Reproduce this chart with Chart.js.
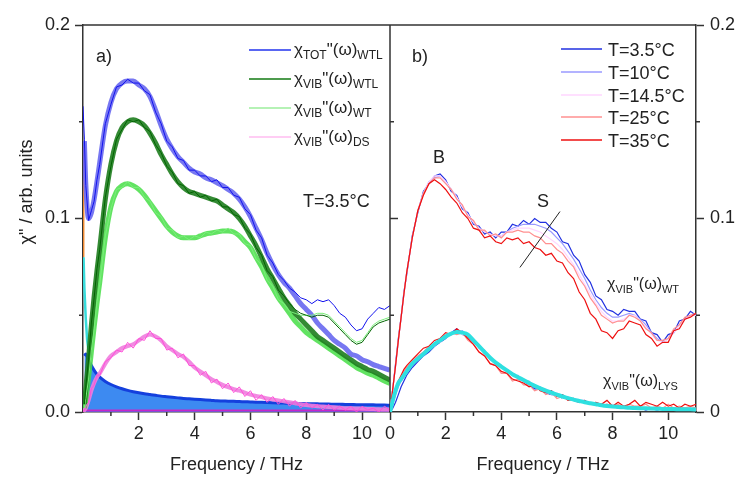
<!DOCTYPE html>
<html>
<head>
<meta charset="utf-8">
<script src="https://cdn.jsdelivr.net/npm/chart.js@4.4.1/dist/chart.umd.min.js"></script>
<style>
  body { margin: 0; background: #fff; width: 739px; height: 478px; overflow: hidden; position: relative; }
  canvas { position: absolute; top: 0; }
  #left { left: 0; }
  #right { left: 380px; }
</style>
</head>
<body>
<canvas id="left" width="400" height="478"></canvas>
<canvas id="right" width="359" height="478"></canvas>
<script>
const FONT = "'Liberation Sans', Arial, sans-serif";

// frequency grid (THz), shared by every series
const FREQ = [
  0, 0.05, 0.1, 0.2, 0.3, 0.4, 0.5, 0.6, 0.8, 1.0,
  1.2, 1.4, 1.6, 1.8, 2.0, 2.2, 2.4, 2.6, 2.8, 3.0,
  3.2, 3.4, 3.6, 3.8, 4.0, 4.2, 4.4, 4.6, 4.8, 5.0,
  5.2, 5.4, 5.6, 5.8, 6.0, 6.2, 6.4, 6.6, 6.8, 7.0,
  7.2, 7.4, 7.6, 7.8, 8.0, 8.2, 8.4, 8.6, 8.8, 9.0,
  9.2, 9.4, 9.6, 9.8, 10.0, 10.2, 10.4, 10.6, 10.8, 11.0
];

// ---- panel a) T=3.5°C ----
const totData = [
  0.158, 0.141, 0.117, 0.099, 0.104, 0.109, 0.120, 0.128, 0.149, 0.159,
  0.168, 0.169, 0.172, 0.170, 0.170, 0.166, 0.164, 0.155, 0.149, 0.140,
  0.137, 0.131, 0.130, 0.125, 0.125, 0.122, 0.122, 0.119, 0.120, 0.116,
  0.116, 0.112, 0.111, 0.105, 0.102, 0.094, 0.090, 0.081, 0.077, 0.071,
  0.068, 0.064, 0.062, 0.059, 0.058, 0.056, 0.058, 0.057, 0.058, 0.055,
  0.051, 0.049, 0.045, 0.042, 0.043, 0.048, 0.051, 0.054, 0.053, 0.055
];
const totFit = [
  null, 0.140, 0.118, 0.100, 0.103, 0.110, 0.119, 0.129, 0.148, 0.160,
  0.167, 0.170, 0.171, 0.171, 0.169, 0.167, 0.163, 0.156, 0.148, 0.141,
  0.136, 0.132, 0.129, 0.126, 0.124, 0.123, 0.121, 0.120, 0.1185, 0.117,
  0.115, 0.113, 0.110, 0.106, 0.101, 0.095, 0.089, 0.082, 0.076, 0.071,
  0.067, 0.064, 0.060, 0.056, 0.053, 0.050, 0.046, 0.043, 0.040, 0.037,
  0.035, 0.033, 0.030, 0.029, 0.027, 0.026, 0.0245, 0.0235, 0.0225, 0.0216
];
const wtlData = [
  null, 0.004, 0.013, 0.027, 0.046, 0.059, 0.074, 0.084, 0.111, 0.127,
  0.141, 0.146, 0.151, 0.150, 0.151, 0.147, 0.145, 0.138, 0.134, 0.127,
  0.124, 0.118, 0.117, 0.113, 0.114, 0.111, 0.112, 0.109, 0.110, 0.106,
  0.106, 0.102, 0.101, 0.095, 0.092, 0.085, 0.081, 0.073, 0.070, 0.063,
  0.060, 0.056, 0.053, 0.051, 0.050, 0.049, 0.050, 0.050, 0.049, 0.046,
  0.043, 0.040, 0.037, 0.035, 0.036, 0.040, 0.044, 0.046, 0.047, 0.048
];
const wtlFit = [
  null, 0.004, 0.012, 0.028, 0.045, 0.060, 0.073, 0.085, 0.110, 0.128,
  0.140, 0.147, 0.150, 0.151, 0.150, 0.148, 0.144, 0.139, 0.133, 0.128,
  0.123, 0.119, 0.116, 0.114, 0.113, 0.112, 0.111, 0.110, 0.109, 0.107,
  0.105, 0.103, 0.100, 0.096, 0.091, 0.086, 0.080, 0.074, 0.069, 0.064,
  0.059, 0.055, 0.051, 0.048, 0.045, 0.042, 0.039, 0.037, 0.035, 0.033,
  0.031, 0.029, 0.027, 0.025, 0.0235, 0.022, 0.021, 0.0195, 0.018, 0.0165
];
const wtData = [
  null, 0.002, 0.007, 0.017, 0.032, 0.043, 0.057, 0.066, 0.091, 0.105,
  0.115, 0.116, 0.119, 0.116, 0.116, 0.111, 0.109, 0.103, 0.101, 0.095,
  0.094, 0.090, 0.091, 0.089, 0.091, 0.090, 0.093, 0.092, 0.094, 0.093,
  0.095, 0.092, 0.092, 0.087, 0.086, 0.079, 0.076, 0.068, 0.065, 0.058,
  0.056, 0.052, 0.051, 0.050, 0.050, 0.050, 0.051, 0.051, 0.050, 0.047,
  0.044, 0.041, 0.038, 0.036, 0.037, 0.041, 0.045, 0.047, 0.048, 0.049
];
const wtFit = [
  null, 0.002, 0.006, 0.018, 0.031, 0.044, 0.056, 0.067, 0.090, 0.106,
  0.114, 0.117, 0.118, 0.117, 0.115, 0.112, 0.108, 0.104, 0.100, 0.096,
  0.093, 0.091, 0.090, 0.090, 0.090, 0.091, 0.092, 0.0925, 0.093, 0.0935,
  0.0935, 0.093, 0.091, 0.088, 0.085, 0.080, 0.075, 0.069, 0.064, 0.059,
  0.055, 0.051, 0.047, 0.044, 0.041, 0.039, 0.037, 0.035, 0.033, 0.031,
  0.029, 0.027, 0.025, 0.023, 0.0215, 0.020, 0.019, 0.0175, 0.016, 0.0148
];
const dsData = [
  0, 0.001, 0.003, 0.005, 0.012, 0.014, 0.019, 0.019, 0.026, 0.028,
  0.032, 0.031, 0.036, 0.033, 0.038, 0.037, 0.042, 0.038, 0.038, 0.032,
  0.033, 0.028, 0.030, 0.024, 0.024, 0.019, 0.021, 0.015, 0.017, 0.012,
  0.015, 0.010, 0.013, 0.008, 0.011, 0.006, 0.009, 0.005, 0.008, 0.004,
  0.007, 0.003, 0.006, 0.002, 0.005, 0.002, 0.004, 0.001, 0.004, 0.001,
  0.003, 0.001, 0.003, 0.000, 0.003, 0.001, 0.002, 0.000, 0.003, 0.001
];
const dsFit = [
  0, 0.001, 0.002, 0.006, 0.011, 0.015, 0.018, 0.020, 0.025, 0.029,
  0.031, 0.033, 0.034, 0.035, 0.037, 0.039, 0.040, 0.039, 0.037, 0.034,
  0.032, 0.030, 0.0285, 0.026, 0.023, 0.021, 0.019, 0.017, 0.0155, 0.014,
  0.0128, 0.0118, 0.011, 0.010, 0.009, 0.0083, 0.0077, 0.007, 0.0065, 0.006,
  0.0055, 0.005, 0.0045, 0.004, 0.0036, 0.0033, 0.003, 0.0028, 0.0026, 0.0024,
  0.0022, 0.002, 0.0019, 0.0018, 0.0017, 0.0016, 0.0015, 0.0014, 0.0013, 0.0012
];
const debye = [
  null, 0.029, 0.030, 0.027, 0.024, 0.0215, 0.0195, 0.018, 0.0158, 0.0142,
  0.013, 0.012, 0.0112, 0.0105, 0.0099, 0.0094, 0.009, 0.0086, 0.0082, 0.0079,
  0.0076, 0.0073, 0.007, 0.0068, 0.0066, 0.0064, 0.0062, 0.006, 0.0058, 0.0057,
  0.0056, 0.0055, 0.0054, 0.0053, 0.0052, 0.0051, 0.005, 0.0049, 0.0048, 0.0047,
  0.0046, 0.0045, 0.0045, 0.0044, 0.0043, 0.0043, 0.0042, 0.0041, 0.0041, 0.004,
  0.004, 0.0039, 0.0039, 0.0038, 0.0038, 0.0037, 0.0037, 0.0036, 0.0036, 0.0035
];
const cyanX = [0.02, 0.05, 0.1, 0.15, 0.22];
const cyanY = [0.080, 0.064, 0.048, 0.037, 0.029];
const orangeX = [0.012, 0.016];
const orangeY = [0.137, 0.080];
const baseX = [0, 11];
const baseY = [0.0008, 0.0008];

// ---- panel b) temperatures ----
const wtT3_5 = [
  0, 0.006, 0.012, 0.025, 0.038, 0.049, 0.062, 0.071, 0.091, 0.103,
  0.114, 0.118, 0.122, 0.123, 0.120, 0.114, 0.112, 0.105, 0.103, 0.097,
  0.096, 0.092, 0.093, 0.090, 0.093, 0.093, 0.097, 0.096, 0.099, 0.097,
  0.100, 0.098, 0.098, 0.095, 0.093, 0.088, 0.087, 0.081, 0.078, 0.071,
  0.067, 0.060, 0.058, 0.053, 0.052, 0.050, 0.053, 0.052, 0.052, 0.048,
  0.047, 0.041, 0.040, 0.036, 0.040, 0.041, 0.047, 0.048, 0.052, 0.050
];
const wtT10 = [
  0, 0.006, 0.012, 0.024, 0.037, 0.049, 0.061, 0.072, 0.090, 0.104,
  0.113, 0.119, 0.121, 0.122, 0.119, 0.115, 0.111, 0.106, 0.102, 0.098,
  0.095, 0.093, 0.092, 0.091, 0.091, 0.093, 0.095, 0.096, 0.097, 0.097,
  0.097, 0.096, 0.095, 0.093, 0.090, 0.087, 0.083, 0.079, 0.074, 0.069,
  0.063, 0.058, 0.054, 0.051, 0.049, 0.049, 0.050, 0.051, 0.050, 0.048,
  0.045, 0.041, 0.038, 0.036, 0.038, 0.041, 0.045, 0.048, 0.050, 0.050
];
const wtT14_5 = [
  0, 0.006, 0.012, 0.024, 0.037, 0.049, 0.061, 0.072, 0.090, 0.104,
  0.113, 0.119, 0.122, 0.122, 0.119, 0.115, 0.111, 0.106, 0.102, 0.098,
  0.095, 0.093, 0.092, 0.091, 0.091, 0.093, 0.094, 0.095, 0.095, 0.095,
  0.094, 0.093, 0.091, 0.089, 0.087, 0.084, 0.080, 0.076, 0.071, 0.066,
  0.061, 0.056, 0.052, 0.049, 0.047, 0.047, 0.048, 0.050, 0.050, 0.047,
  0.044, 0.040, 0.037, 0.036, 0.038, 0.041, 0.045, 0.048, 0.050, 0.050
];
const wtT25 = [
  0, 0.006, 0.012, 0.024, 0.037, 0.049, 0.061, 0.072, 0.090, 0.104,
  0.113, 0.118, 0.121, 0.121, 0.118, 0.115, 0.110, 0.107, 0.101, 0.099,
  0.094, 0.094, 0.091, 0.092, 0.090, 0.093, 0.093, 0.094, 0.093, 0.093,
  0.091, 0.090, 0.087, 0.087, 0.084, 0.082, 0.078, 0.075, 0.069, 0.065,
  0.059, 0.055, 0.050, 0.048, 0.046, 0.047, 0.047, 0.050, 0.049, 0.047,
  0.043, 0.041, 0.037, 0.037, 0.038, 0.043, 0.045, 0.049, 0.050, 0.051
];
const wtT35 = [
  0, 0.006, 0.012, 0.024, 0.037, 0.049, 0.061, 0.072, 0.090, 0.104,
  0.112, 0.118, 0.120, 0.118, 0.115, 0.111, 0.108, 0.103, 0.100, 0.095,
  0.094, 0.090, 0.091, 0.088, 0.087, 0.090, 0.089, 0.090, 0.087, 0.088,
  0.085, 0.084, 0.081, 0.082, 0.078, 0.077, 0.072, 0.069, 0.062, 0.058,
  0.051, 0.048, 0.042, 0.041, 0.038, 0.042, 0.043, 0.047, 0.046, 0.045,
  0.040, 0.038, 0.034, 0.036, 0.036, 0.042, 0.043, 0.048, 0.049, 0.051
];
const lysT3_5 = [
  0, 0.001, 0.002, 0.005, 0.009, 0.013, 0.016, 0.019, 0.023, 0.026,
  0.029, 0.031, 0.034, 0.036, 0.038, 0.041, 0.043, 0.040, 0.039, 0.036,
  0.034, 0.031, 0.028, 0.026, 0.023, 0.022, 0.020, 0.018, 0.016, 0.014,
  0.012, 0.012, 0.010, 0.009, 0.009, 0.007, 0.007, 0.006, 0.005, 0.005,
  0.004, 0.004, 0.003, 0.003, 0.003, 0.002, 0.003, 0.002, 0.002, 0.002,
  0.001, 0.002, 0.001, 0.002, 0.001, 0.002, 0.001, 0.001, 0.002, 0.001
];
const lysT10 = [
  0, 0.002, 0.004, 0.009, 0.013, 0.016, 0.018, 0.021, 0.024, 0.028,
  0.029, 0.033, 0.034, 0.037, 0.038, 0.041, 0.041, 0.042, 0.039, 0.038,
  0.033, 0.032, 0.027, 0.026, 0.023, 0.022, 0.019, 0.019, 0.016, 0.016,
  0.013, 0.013, 0.011, 0.011, 0.009, 0.009, 0.007, 0.007, 0.006, 0.006,
  0.004, 0.005, 0.003, 0.004, 0.003, 0.003, 0.002, 0.003, 0.002, 0.002,
  0.002, 0.002, 0.001, 0.002, 0.001, 0.002, 0.001, 0.002, 0.001, 0.001
];
const lysT14_5 = [
  0, 0.002, 0.005, 0.010, 0.014, 0.017, 0.019, 0.022, 0.025, 0.027,
  0.031, 0.032, 0.036, 0.036, 0.040, 0.040, 0.042, 0.040, 0.040, 0.036,
  0.035, 0.030, 0.029, 0.025, 0.024, 0.021, 0.020, 0.017, 0.017, 0.014,
  0.014, 0.011, 0.012, 0.009, 0.010, 0.007, 0.008, 0.006, 0.006, 0.005,
  0.005, 0.004, 0.004, 0.003, 0.004, 0.002, 0.003, 0.002, 0.003, 0.002,
  0.002, 0.001, 0.002, 0.001, 0.002, 0.001, 0.002, 0.001, 0.002, 0.001
];
const lysT25 = [
  0, 0.003, 0.006, 0.011, 0.015, 0.018, 0.021, 0.023, 0.026, 0.029,
  0.031, 0.034, 0.035, 0.038, 0.039, 0.041, 0.040, 0.041, 0.037, 0.035,
  0.031, 0.029, 0.025, 0.024, 0.020, 0.020, 0.016, 0.017, 0.014, 0.014,
  0.011, 0.012, 0.009, 0.010, 0.007, 0.008, 0.006, 0.006, 0.005, 0.005,
  0.004, 0.005, 0.003, 0.004, 0.003, 0.004, 0.002, 0.004, 0.003, 0.003,
  0.004, 0.002, 0.003, 0.002, 0.004, 0.002, 0.003, 0.002, 0.003, 0.002
];
const lysT35 = [
  0, 0.004, 0.007, 0.012, 0.016, 0.019, 0.022, 0.024, 0.027, 0.030,
  0.033, 0.034, 0.037, 0.038, 0.041, 0.040, 0.043, 0.041, 0.038, 0.035,
  0.031, 0.029, 0.025, 0.024, 0.021, 0.020, 0.017, 0.016, 0.015, 0.013,
  0.014, 0.011, 0.010, 0.011, 0.008, 0.009, 0.006, 0.007, 0.005, 0.006,
  0.004, 0.005, 0.004, 0.006, 0.003, 0.005, 0.003, 0.004, 0.006, 0.003,
  0.005, 0.004, 0.003, 0.005, 0.003, 0.004, 0.002, 0.004, 0.003, 0.004
];
const lysFit = [
  0, 0.003, 0.006, 0.011, 0.015, 0.017, 0.019, 0.021, 0.025, 0.0275,
  0.030, 0.0325, 0.035, 0.037, 0.039, 0.0405, 0.0414, 0.041, 0.040, 0.037,
  0.034, 0.031, 0.028, 0.0255, 0.0235, 0.0215, 0.0195, 0.018, 0.0165, 0.015,
  0.0135, 0.0122, 0.011, 0.010, 0.009, 0.008, 0.0072, 0.0064, 0.0057, 0.005,
  0.0045, 0.004, 0.0035, 0.0031, 0.0028, 0.0026, 0.0024, 0.0022, 0.0021, 0.002,
  0.0019, 0.0018, 0.0017, 0.0016, 0.0015, 0.0015, 0.0014, 0.0014, 0.0014, 0.0013
];
// guide line through the S band
const sLineX = [4.67, 6.11];
const sLineY = [0.0747, 0.1036];

const tempLabels = ["T=3.5°C", "T=10°C", "T=14.5°C", "T=25°C", "T=35°C"];
const tempColors = ["#2030e0", "#9a9aff", "#ffd6ff", "#ff9090", "#ee1010"];

function pts(xs, ys) {
  return xs.map((x, i) => ({ x: x, y: ys[i] }));
}

function line(xs, ys, color, width, order, extra) {
  return Object.assign({
    data: pts(xs, ys),
    borderColor: color,
    borderWidth: width,
    pointRadius: 0,
    fill: false,
    tension: 0,
    order: order
  }, extra || {});
}

function rich(ctx, x, y, parts) {
  parts.forEach(p => {
    ctx.font = p[1] + "px " + FONT;
    ctx.fillText(p[0], x, y + p[2]);
    x += ctx.measureText(p[0]).width;
  });
}

function minorTicks(ctx, scale, values, len, dir) {
  values.forEach(v => {
    const p = scale.getPixelForValue(v);
    ctx.beginPath();
    if (dir === "down") { ctx.moveTo(p, scale.top); ctx.lineTo(p, scale.top + len); }
    else if (dir === "left") { ctx.moveTo(scale.right, p); ctx.lineTo(scale.right - len, p); }
    else { ctx.moveTo(scale.left, p); ctx.lineTo(scale.left + len, p); }
    ctx.stroke();
  });
}

Chart.defaults.font.family = FONT;
Chart.defaults.color = "#222";

const smooth = { cubicInterpolationMode: "monotone" };

const leftDecor = {
  id: "leftDecor",
  afterDraw(chart) {
    const { ctx, chartArea: a, scales: { x, y } } = chart;
    ctx.save();
    ctx.strokeStyle = "#333";
    ctx.lineWidth = 1.5;
    ctx.beginPath();
    ctx.moveTo(a.left, a.top); ctx.lineTo(a.right, a.top);
    ctx.moveTo(a.right, a.top); ctx.lineTo(a.right, a.bottom);
    ctx.stroke();
    minorTicks(ctx, x, [1, 3, 5, 7, 9], 4, "down");
    minorTicks(ctx, y, [0.05, 0.15], 4, "left");
    // ticks of the shared middle axis, pointing into panel b
    [[0.05, 4], [0.1, 8], [0.15, 4]].forEach(([v, len]) => {
      const p = y.getPixelForValue(v);
      ctx.beginPath(); ctx.moveTo(a.right, p); ctx.lineTo(a.right + len, p); ctx.stroke();
    });
    ctx.fillStyle = "#222";
    ctx.textAlign = "left";
    ctx.textBaseline = "alphabetic";
    ctx.font = "18px " + FONT;
    ctx.fillText("a)", 96, 62);
    ctx.fillText("T=3.5°C", 303, 207);
    // legend
    const rows = [
      ["#2233ee", "TOT", "WTL"],
      ["#137a13", "VIB", "WTL"],
      ["#9dee9d", "VIB", "WT"],
      ["#ffbdf0", "VIB", "DS"]
    ];
    const ys = [50, 79, 108, 137];
    rows.forEach((r, i) => {
      ctx.strokeStyle = r[0];
      ctx.lineWidth = 1.5;
      ctx.beginPath(); ctx.moveTo(249, ys[i]); ctx.lineTo(291, ys[i]); ctx.stroke();
      rich(ctx, 294, ys[i] + 5, [["χ", 17, 0], [r[1], 12, 4], ['"(ω)', 17, 0], [r[2], 12, 4]]);
    });
    // y axis title
    ctx.translate(27, 192);
    ctx.rotate(-Math.PI / 2);
    ctx.textAlign = "center";
    ctx.textBaseline = "middle";
    ctx.font = "18px " + FONT;
    ctx.fillText('χ" / arb. units', 0, 0);
    ctx.restore();
  }
};

const rightDecor = {
  id: "rightDecor",
  afterDraw(chart) {
    const { ctx, chartArea: a, scales: { x, y } } = chart;
    ctx.save();
    ctx.strokeStyle = "#333";
    ctx.lineWidth = 1.5;
    ctx.beginPath();
    ctx.moveTo(a.left, a.top); ctx.lineTo(a.right, a.top);
    ctx.stroke();
    minorTicks(ctx, x, [1, 3, 5, 7, 9], 4, "down");
    minorTicks(ctx, y, [0.05, 0.15], 4, "right");
    ctx.fillStyle = "#222";
    ctx.textBaseline = "alphabetic";
    ctx.font = "18px " + FONT;
    ctx.fillText("b)", 32, 62);
    ctx.fillText("B", 53, 163);
    ctx.fillText("S", 157, 207);
    rich(ctx, 227, 289, [["χ", 16, 0], ["VIB", 11, 4], ['"(ω)', 16, 0], ["WT", 11, 4]]);
    rich(ctx, 223, 386, [["χ", 16, 0], ["VIB", 11, 4], ['"(ω)', 16, 0], ["LYS", 11, 4]]);
    const ys = [49, 72, 95, 117, 140];
    tempLabels.forEach((t, i) => {
      ctx.strokeStyle = tempColors[i];
      ctx.lineWidth = 1.5;
      ctx.beginPath(); ctx.moveTo(181, ys[i]); ctx.lineTo(222, ys[i]); ctx.stroke();
      ctx.font = "18px " + FONT;
      ctx.fillText(t, 228, ys[i] + 7);
    });
    ctx.restore();
  }
};

function axisX(ticks) {
  return {
    type: "linear", min: 0, max: 11,
    afterBuildTicks: s => { s.ticks = ticks.map(v => ({ value: v })); },
    afterFit: s => { s.height = 66; },
    ticks: { font: { size: 18 }, color: "#222", padding: 3, maxRotation: 0 },
    grid: { drawOnChartArea: false, tickLength: 8, tickWidth: 1.5, tickColor: "#333" },
    border: { display: true, color: "#333", width: 1.5 },
    title: { display: true, text: "Frequency / THz", font: { size: 18 }, color: "#222", padding: { top: 0, bottom: 2 } }
  };
}

function axisY(position, width, fmt, pad) {
  return {
    type: "linear", min: 0, max: 0.2, position: position,
    afterBuildTicks: s => { s.ticks = [0, 0.1, 0.2].map(v => ({ value: v })); },
    afterFit: s => { s.width = width; },
    ticks: { font: { size: 18 }, color: "#222", padding: pad, callback: fmt },
    grid: { drawOnChartArea: false, tickLength: 8, tickWidth: 1.5, tickColor: "#333" },
    border: { display: true, color: "#333", width: 1.5 }
  };
}

new Chart(document.getElementById("left"), {
  type: "line",
  data: {
    datasets: [
      line(FREQ, totData, "#1212ee", 1, 1),
      line(FREQ, wtlData, "#006400", 1, 2),
      line(FREQ, wtData, "#7aee7a", 1, 3),
      line(FREQ, dsData, "#ff4fd8", 1, 4),
      line(FREQ, totFit, "rgba(95,95,238,0.85)", 5, 5, smooth),
      line(FREQ, wtlFit, "rgba(30,125,30,0.9)", 5, 6, smooth),
      line(FREQ, wtFit, "rgba(70,222,70,0.85)", 5, 7, smooth),
      line(FREQ, dsFit, "rgba(240,125,222,0.9)", 4, 8, smooth),
      line(cyanX, cyanY, "#38dcdc", 2.5, 9),
      line(orangeX, orangeY, "#ee8a33", 2, 10),
      line(baseX, baseY, "#c826c8", 2, 11),
      line(FREQ, debye, "#1440dd", 3, 12, Object.assign({ fill: "origin", backgroundColor: "rgba(44,128,240,0.92)" }, smooth))
    ]
  },
  options: {
    responsive: false,
    devicePixelRatio: 1,
    animation: false,
    layout: { padding: { top: 25, right: 10, left: 0, bottom: 0 } },
    plugins: { legend: { display: false }, tooltip: { enabled: false } },
    scales: {
      x: axisX([2, 4, 6, 8, 10]),
      y: axisY("left", 83, v => v.toFixed(1), 5)
    }
  },
  plugins: [leftDecor]
});

const wtSets = [wtT3_5, wtT10, wtT14_5, wtT25, wtT35];
const lysSets = [lysT3_5, lysT10, lysT14_5, lysT25, lysT35];
const rightSets = [line(sLineX, sLineY, "#222", 1, 0), line(FREQ, lysFit, "#2ee0e0", 4, 1, smooth)];
for (let i = 0; i < 5; i++) {
  rightSets.push(line(FREQ, wtSets[i], tempColors[i], 1.2, 7 - i));
  rightSets.push(line(FREQ, lysSets[i], tempColors[i], 1.2, 7 - i));
}

new Chart(document.getElementById("right"), {
  type: "line",
  data: { datasets: rightSets },
  options: {
    responsive: false,
    devicePixelRatio: 1,
    animation: false,
    layout: { padding: { top: 25, right: 0, left: 10, bottom: 0 } },
    plugins: { legend: { display: false }, tooltip: { enabled: false } },
    scales: {
      x: axisX([0, 2, 4, 6, 8, 10]),
      y: axisY("right", 43, v => (v === 0 ? "0" : v.toFixed(1)), 6)
    }
  },
  plugins: [rightDecor]
});
</script>
</body>
</html>
